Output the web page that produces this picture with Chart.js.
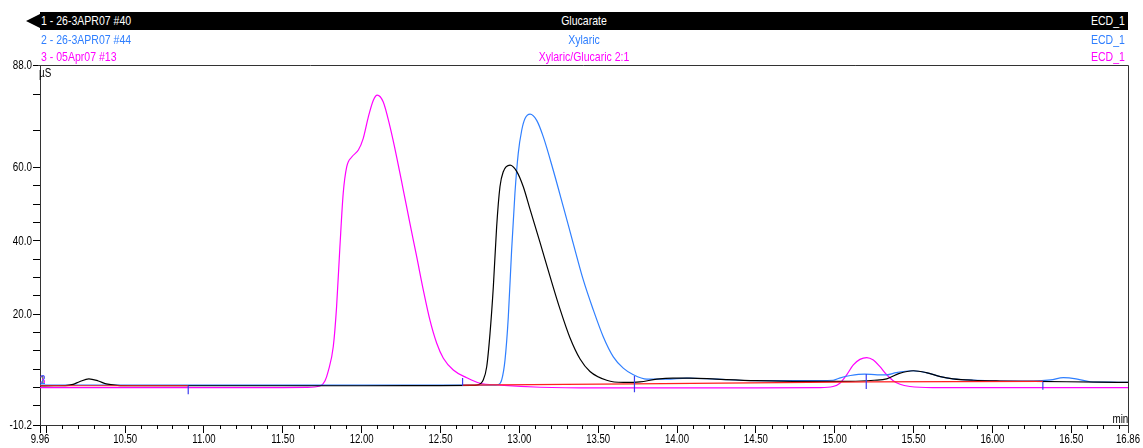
<!DOCTYPE html>
<html>
<head>
<meta charset="utf-8">
<script src="https://cdn.jsdelivr.net/npm/chart.js@4.4.1/dist/chart.umd.min.js"></script>
<style>
body { margin: 0; background: #fff; }
#wrap { position: relative; width: 1143px; height: 448px; font-family: "Liberation Sans", Arial, sans-serif; }
#chart { position: absolute; left: 0; top: 0; }
.row { position: absolute; left: 40px; width: 1088px; height: 18px; line-height: 18px; font-size: 13px; white-space: nowrap; }
.row span { position: absolute; top: 0; transform: scaleX(0.81); }
.row .l { left: 1px; transform-origin: left center; }
.row .c { left: 0; right: 0; text-align: center; transform-origin: center center; }
.row .r { right: 3px; transform-origin: right center; }
#r1 { top: 12px; background: #000; color: #fff; }
#r2 { top: 31px; color: #2f7fff; }
#r3 { top: 48px; color: #ff00ff; }
#tri { position: absolute; left: 26px; top: 14px; width: 0; height: 0; border-top: 7px solid transparent; border-bottom: 7px solid transparent; border-right: 14px solid #000; }
.lbl { position: absolute; font-size: 12px; line-height: 12px; color: #000; transform: scaleX(0.82); }
.num { position: absolute; left: 40px; top: 374px; font-size: 12px; line-height: 12px; transform: scaleX(0.82); transform-origin: left center; }
</style>
</head>
<body>
<div id="wrap">
  <canvas id="chart" width="1143" height="448"></canvas>
  <div id="tri"></div>
  <div class="row" id="r1"><span class="l">1 - 26-3APR07 #40</span><span class="c">Glucarate</span><span class="r">ECD_1</span></div>
  <div class="row" id="r2"><span class="l">2 - 26-3APR07 #44</span><span class="c">Xylaric</span><span class="r">ECD_1</span></div>
  <div class="row" id="r3"><span class="l">3 - 05Apr07 #13</span><span class="c">Xylaric/Glucaric 2:1</span><span class="r">ECD_1</span></div>
  <div class="lbl" style="left:39px; top:67px; transform-origin:left center;">µS</div>
  <div class="lbl" style="right:15px; top:413px; transform-origin:right center;">min</div>
  <div class="num" style="color:#000;">1</div>
  <div class="num" style="color:#ff00ff;">3</div>
  <div class="num" style="color:#2f7fff;">2</div>
</div>
<script>
'use strict';

// axis ranges
const xMin = 9.96, xMax = 16.86;
const yMin = -10.2, yMax = 88.0;

// tick values
const xLabelTicks = [9.96, 10.5, 11.0, 11.5, 12.0, 12.5, 13.0, 13.5, 14.0, 14.5, 15.0, 15.5, 16.0, 16.5, 16.86];
const xLongTicks = [...xLabelTicks, 10.0];
const yTicks = [88, 80, 70, 60, 55, 50, 45, 40, 35, 30, 25, 20, 15, 10, 5, 0, -5, -10.2];
const yLabelTicks = [88, 60, 40, 20, -10.2];

// 1 - Glucarate (black)
const glucTime = [9.96, 10.05, 10.12, 10.17, 10.21, 10.27, 10.33, 10.38, 10.45, 10.55, 11.0, 11.5, 12.0, 12.5, 12.70,
  12.730, 12.771, 12.793, 12.814, 12.835, 12.856, 12.877, 12.898, 12.941, 12.983, 13.025, 13.068, 13.131, 13.194,
  13.258, 13.321, 13.385, 13.448, 13.554, 13.659, 13.765, 13.871, 13.974, 14.082, 14.25, 14.50, 14.80, 15.10,
  15.25, 15.33, 15.41, 15.50, 15.58, 15.67, 15.75, 15.88, 16.05, 16.26, 16.47, 16.68, 16.86];
const glucValue = [0.45, 0.5, 0.55, 0.9, 1.6, 2.4, 1.8, 1.0, 0.6, 0.5, 0.5, 0.5, 0.5, 0.55, 0.6,
  0.7, 2.1, 5.7, 14.8, 27.5, 43.9, 54.8, 58.9, 60.7, 59.0, 54.8, 48.6, 39.6, 30.4,
  21.4, 13.6, 7.8, 4.4, 2.0, 1.4, 1.55, 2.3, 2.6, 2.6, 2.3, 1.9, 1.7, 1.7,
  2.0, 2.4, 3.9, 4.6, 4.1, 3.0, 2.4, 2.0, 1.8, 1.7, 1.6, 1.5, 1.4];

// 2 - Xylaric (blue)
const xylTime = [9.96, 10.5, 11.0, 11.5, 12.0, 12.5, 12.85, 12.867, 12.888, 12.909, 12.930, 12.951, 12.972, 12.993,
  13.015, 13.036, 13.068, 13.110, 13.152, 13.215, 13.279, 13.342, 13.406, 13.469, 13.532, 13.596, 13.659, 13.723,
  13.808, 13.934, 14.061, 14.25, 14.50, 14.80, 14.99, 15.03, 15.10, 15.19, 15.27, 15.33, 15.39, 15.49, 15.58,
  15.67, 15.75, 15.84, 16.05, 16.26, 16.37, 16.45, 16.53, 16.62, 16.75, 16.86];
const xylValue = [0.7, 0.7, 0.7, 0.7, 0.7, 0.7, 0.7, 0.8, 2.1, 7.5, 19.3, 37.5, 53.0, 63.9,
  70.2, 73.4, 74.6, 72.9, 68.4, 59.3, 49.3, 39.3, 29.3, 21.2, 13.9, 8.4, 5.3, 3.5,
  2.3, 2.3, 2.6, 2.3, 1.9, 1.9, 2.0, 2.6, 3.3, 3.7, 3.5, 3.5, 4.1, 4.6, 4.1,
  3.0, 2.4, 2.1, 1.8, 1.8, 2.1, 2.7, 2.4, 1.6, 1.5, 1.4];

// 3 - Xylaric/Glucaric 2:1 (magenta)
const mixTime = [9.96, 10.5, 11.0, 11.5, 11.651, 11.736, 11.767, 11.788, 11.820, 11.841, 11.862, 11.883, 11.905,
  11.937, 11.979, 12.010, 12.042, 12.074, 12.099, 12.137, 12.180, 12.222, 12.264, 12.306, 12.349, 12.391, 12.433,
  12.476, 12.518, 12.581, 12.666, 12.750, 12.877, 13.131, 13.5, 14.0, 14.5, 14.9, 14.989, 15.033, 15.076, 15.118,
  15.160, 15.203, 15.245, 15.287, 15.330, 15.371, 15.414, 15.477, 15.62, 16.0, 16.5, 16.86];
const mixValue = [0.0, 0.0, 0.0, 0.0, 0.05, 0.45, 1.8, 4.5, 11.2, 22.1, 38.4, 53.0, 60.2,
  62.9, 64.8, 68.0, 73.8, 78.4, 79.8, 77.9, 71.1, 62.9, 53.9, 44.8, 35.7, 26.6, 18.4,
  12.1, 8.0, 4.8, 2.7, 1.2, 0.7, 0.1, -0.1, -0.1, -0.1, 0.0, 0.3, 1.2, 3.5, 6.2,
  7.7, 8.2, 7.5, 5.7, 3.5, 1.9, 0.9, 0.3, 0.0, 0.0, 0.0, 0.0];

// integration baselines (red), null = break
const baseTime = [9.96, 10.90, 10.90, 12.64, 13.73, 15.20, 16.32];
const baseValue = [0.5, 0.5, null, 0.65, 1.0, 1.55, 1.7];

// peak delimiters (blue vertical marks)
const markTime = [10.90, 12.64, 13.73, 15.20, 16.32];
const markTop = [0.5, 2.6, 3.2, 3.7, 1.6];
const markBottom = [-1.8, 0.5, -1.25, -0.4, -0.6];

const toPoints = (xs, ys) => xs.map((x, i) => ({ x: x, y: ys[i] }));

const markPoints = [];
markTime.forEach((t, i) => {
  markPoints.push({ x: t, y: markTop[i] }, { x: t, y: markBottom[i] }, { x: t, y: null });
});

// short ticks every 0.1 min
const xMinorTicks = [];
for (let i = 100; i <= 168; i++) {
  const v = i / 10;
  if (!xLongTicks.some(t => Math.abs(t - v) < 1e-6)) xMinorTicks.push(v);
}

const fontFam = '"Liberation Sans", Arial, sans-serif';

// frame, minor ticks and narrow tick labels
const framePlugin = {
  id: 'frame',
  afterDraw(chart) {
    const { ctx, chartArea: a, scales: { x, y } } = chart;
    ctx.save();
    ctx.strokeStyle = '#333';
    ctx.lineWidth = 1;
    ctx.beginPath();
    ctx.moveTo(a.left - 2, Math.round(a.top) + 0.5);
    ctx.lineTo(Math.round(a.right) + 0.5, Math.round(a.top) + 0.5);
    ctx.lineTo(Math.round(a.right) + 0.5, a.bottom + 8);
    ctx.stroke();
    ctx.strokeStyle = '#000';
    ctx.beginPath();
    for (const t of xMinorTicks) {
      const px = Math.round(x.getPixelForValue(t)) + 0.5;
      ctx.moveTo(px, a.bottom);
      ctx.lineTo(px, a.bottom + 4);
    }
    ctx.stroke();

    ctx.fillStyle = '#000';
    ctx.font = '12px ' + fontFam;
    ctx.textAlign = 'center';
    ctx.textBaseline = 'top';
    for (const t of xLabelTicks) {
      ctx.save();
      ctx.translate(x.getPixelForValue(t), a.bottom + 9);
      ctx.scale(0.8, 1);
      ctx.fillText(t.toFixed(2), 0, 0);
      ctx.restore();
    }
    ctx.textAlign = 'right';
    ctx.textBaseline = 'middle';
    for (const t of yLabelTicks) {
      ctx.save();
      ctx.translate(a.left - 8, y.getPixelForValue(t) + 0.5);
      ctx.scale(0.82, 1);
      ctx.fillText(t.toFixed(1), 0, 0);
      ctx.restore();
    }
    ctx.restore();
  }
};

const traceStyle = { pointRadius: 0, borderWidth: 1.2, cubicInterpolationMode: 'monotone', fill: false };

new Chart(document.getElementById('chart'), {
  type: 'line',
  data: {
    datasets: [
      { label: 'marks', data: markPoints, borderColor: '#3c3cf0', borderWidth: 1.2, pointRadius: 0, spanGaps: false, order: 0 },
      { label: 'baseline', data: toPoints(baseTime, baseValue), borderColor: '#ff2020', borderWidth: 1.2, pointRadius: 0, tension: 0, spanGaps: false, order: 1 },
      { label: 'Glucarate', data: toPoints(glucTime, glucValue), borderColor: '#000000', ...traceStyle, order: 2 },
      { label: 'Xylaric', data: toPoints(xylTime, xylValue), borderColor: '#2f7fff', ...traceStyle, order: 3 },
      { label: 'Xylaric/Glucaric 2:1', data: toPoints(mixTime, mixValue), borderColor: '#ff00ff', ...traceStyle, order: 4 }
    ]
  },
  options: {
    responsive: false,
    devicePixelRatio: 1,
    animation: false,
    layout: { padding: { top: 65, right: 15, left: 0, bottom: 0 } },
    plugins: { legend: { display: false }, tooltip: { enabled: false } },
    scales: {
      x: {
        type: 'linear',
        min: xMin,
        max: xMax,
        afterFit: s => { s.height = 23; },
        afterBuildTicks: s => { s.ticks = xLongTicks.map(v => ({ value: v })); },
        grid: { drawOnChartArea: false, tickLength: 8, tickColor: '#000' },
        border: { color: '#333' },
        ticks: { autoSkip: false, maxRotation: 0, callback: () => '' }
      },
      y: {
        type: 'linear',
        min: yMin,
        max: yMax,
        afterFit: s => { s.width = 40; },
        afterBuildTicks: s => { s.ticks = yTicks.map(v => ({ value: v })); },
        grid: { drawOnChartArea: false, tickLength: 7, tickColor: '#000' },
        border: { color: '#333' },
        ticks: { autoSkip: false, callback: () => '' }
      }
    }
  },
  plugins: [framePlugin]
});
</script>
</body>
</html>
